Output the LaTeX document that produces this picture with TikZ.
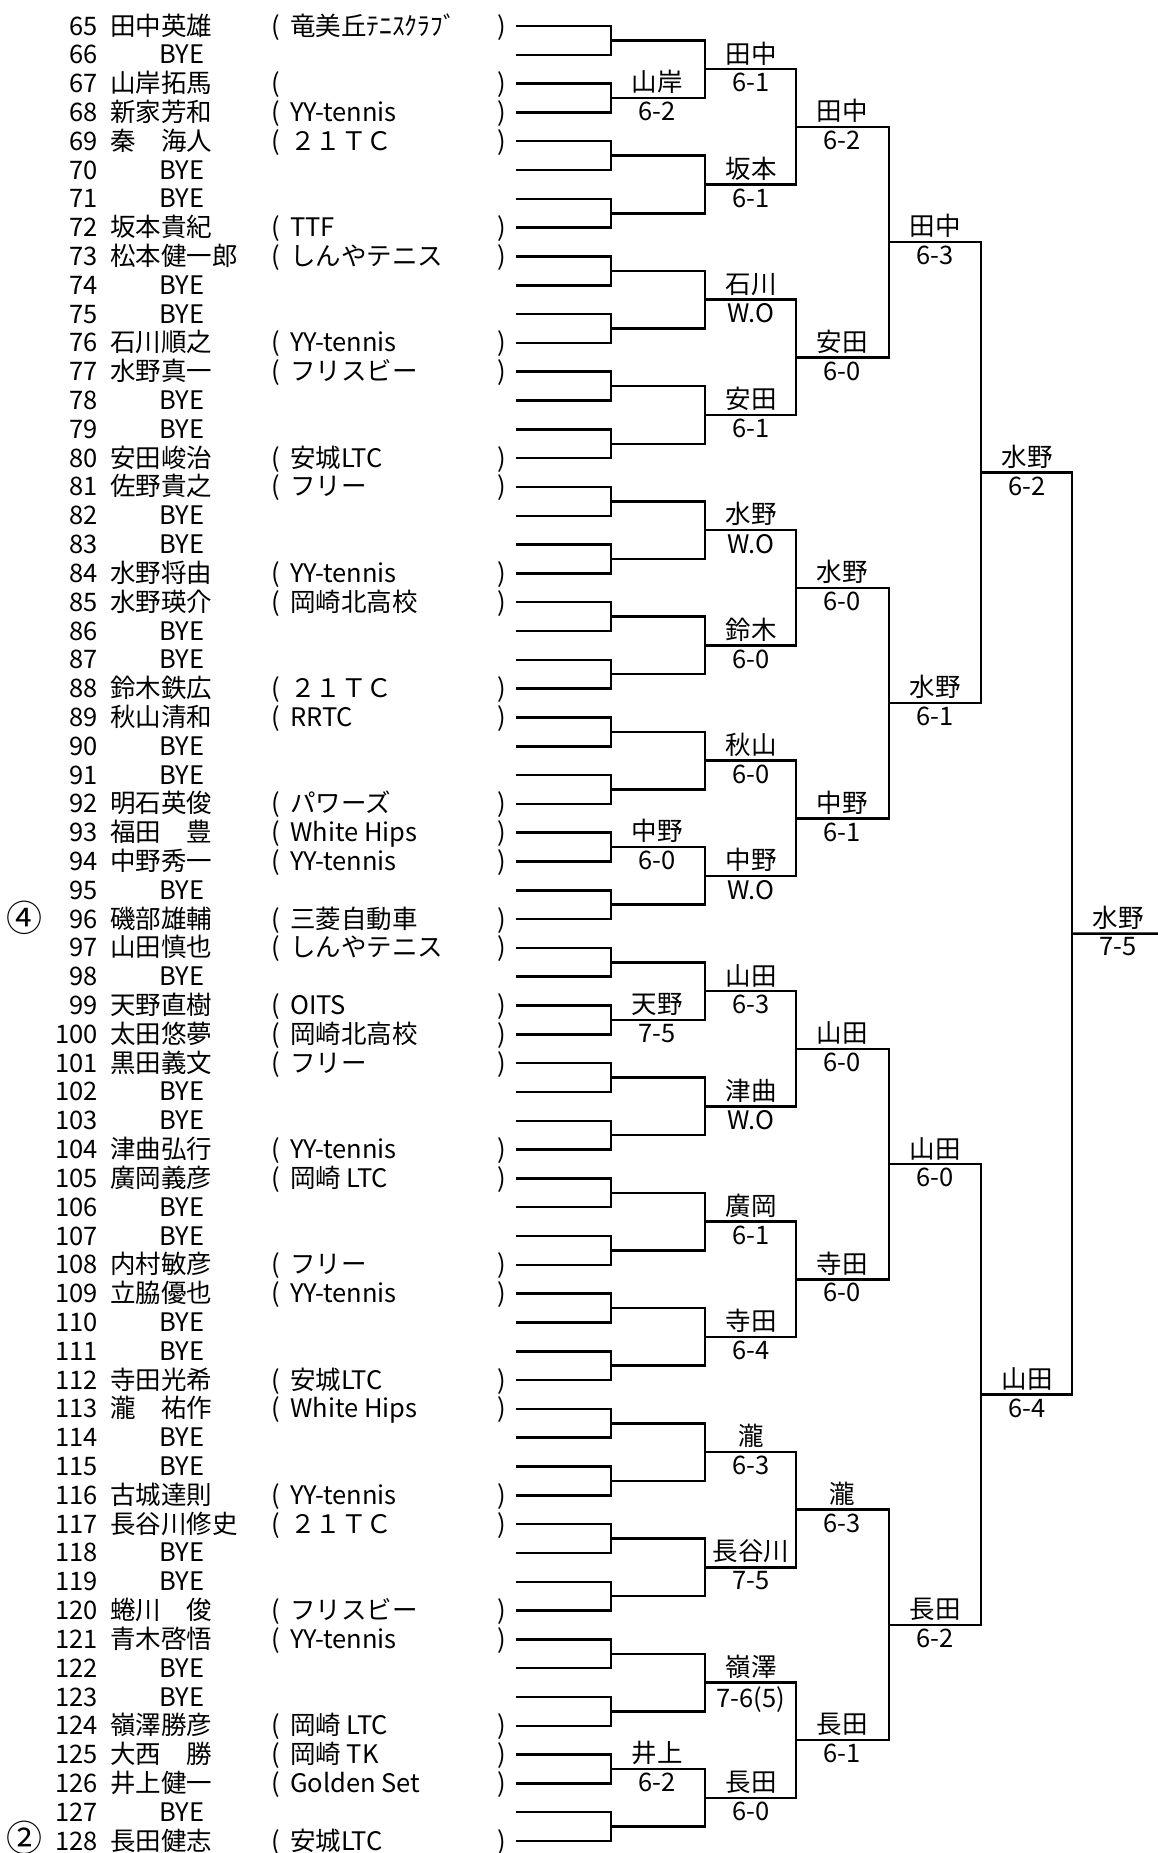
\documentclass[tikz,border=0pt]{standalone}
\usepackage{fontspec}
\setmainfont{Noto Sans CJK JP}

\begin{document}
\begin{tikzpicture}[
    x=1pt, y=-1pt,
    entry/.style={inner sep=0pt, font=\fontsize{25.5}{26}\selectfont},
    num/.style={entry, anchor=base east},
    who/.style={entry, anchor=base west},
    paren/.style={entry, anchor=base},
    bye/.style={entry, anchor=base},
    seed/.style={inner sep=0pt, anchor=center, font=\fontsize{36}{36}\selectfont},
    bracket/.style={line width=2.5pt},
    winner/.style={entry, anchor=south, xshift=46pt, yshift=4pt},
    score/.style={entry, anchor=north, xshift=46pt, yshift=-4pt}
]
\useasboundingbox (0,0) rectangle (1158,1853);

% Entries with a club
\foreach \n/\who/\club in {
    65/田中英雄/竜美丘ﾃﾆｽｸﾗﾌﾞ, 67/山岸拓馬/{}, 68/新家芳和/YY-tennis,
    69/秦　海人/２１ＴＣ, 72/坂本貴紀/TTF, 73/松本健一郎/しんやテニス,
    76/石川順之/YY-tennis, 77/水野真一/フリスビー, 80/安田峻治/安城LTC,
    81/佐野貴之/フリー, 84/水野将由/YY-tennis, 85/水野瑛介/岡崎北高校,
    88/鈴木鉄広/２１ＴＣ, 89/秋山清和/RRTC, 92/明石英俊/パワーズ,
    93/福田　豊/White Hips, 94/中野秀一/YY-tennis, 96/磯部雄輔/三菱自動車,
    97/山田慎也/しんやテニス, 99/天野直樹/OITS, 100/太田悠夢/岡崎北高校,
    101/黒田義文/フリー, 104/津曲弘行/YY-tennis, 105/廣岡義彦/岡崎 LTC,
    108/内村敏彦/フリー, 109/立脇優也/YY-tennis, 112/寺田光希/安城LTC,
    113/瀧　祐作/White Hips, 116/古城達則/YY-tennis, 117/長谷川修史/２１ＴＣ,
    120/蜷川　俊/フリスビー, 121/青木啓悟/YY-tennis, 124/嶺澤勝彦/岡崎 LTC,
    125/大西　勝/岡崎 TK, 126/井上健一/Golden Set, 128/長田健志/安城LTC}
{
    \pgfmathsetmacro\y{26+(\n-65)*28.81}
    \node[num] (num\n) at (98,\y+9) {\n};
    \node[who] (name\n) at (110,\y+9) {\who};
    \node[paren] (open\n) at (276,\y+9) {(};
    \node[who] (club\n) at (290,\y+9) {\club};
    \node[paren] (close\n) at (502,\y+9) {)};
    \coordinate (p\n) at (516,\y);
}

% BYE slots
\foreach \n in {66,70,71,74,75,78,79,82,83,86,87,90,91,95,98,102,103,
    106,107,110,111,114,115,118,119,122,123,127}
{
    \pgfmathsetmacro\y{26+(\n-65)*28.81}
    \node[num] (num\n) at (98,\y+9) {\n};
    \node[bye] (name\n) at (182,\y+9) {BYE};
    \coordinate (p\n) at (516,\y);
}

% Seeds
\node[seed] (seed96) at (24,918) {④};
\node[seed] (seed128) at (24,1838) {②};

% First round
\foreach \k in {1,...,32} {
    \pgfmathtruncatemacro\ra{63+2*\k}
    \pgfmathtruncatemacro\rb{64+2*\k}
    \coordinate (r1m\k) at (611,{26+(2*\k-1.5)*28.81});
    \draw[bracket] (p\ra) -| (r1m\k) |- (p\rb);
}

% Later rounds
\foreach \lvl/\xpos/\cnt in {2/705/16, 3/796/8, 4/889/4, 5/981/2, 6/1072/1} {
    \pgfmathtruncatemacro\lastlvl{\lvl-1}
    \foreach \k in {1,...,\cnt} {
        \pgfmathtruncatemacro\ra{2*\k-1}
        \pgfmathtruncatemacro\rb{2*\k}
        \pgfmathsetmacro\ymid{26+(2^\lvl*\k-2^(\lvl-1)-0.5)*28.81}
        \coordinate (r\lvl m\k) at (\xpos,\ymid);
        \draw[bracket] (r\lastlvl m\ra) -| (r\lvl m\k) |- (r\lastlvl m\rb);
    }
}

% Champion line
\coordinate (champ) at (1158,933.5);
\draw[bracket] (r6m1) -- (champ);

% Results
\foreach \lvl/\k/\who/\res in {
    1/2/山岸/6-2, 1/15/中野/6-0, 1/18/天野/7-5, 1/31/井上/6-2,
    2/1/田中/6-1, 2/2/坂本/6-1, 2/3/石川/W.O, 2/4/安田/6-1,
    2/5/水野/W.O, 2/6/鈴木/6-0, 2/7/秋山/6-0, 2/8/中野/W.O,
    2/9/山田/6-3, 2/10/津曲/W.O, 2/11/廣岡/6-1, 2/12/寺田/6-4,
    2/13/瀧/6-3, 2/14/長谷川/7-5, 2/15/嶺澤/7-6(5), 2/16/長田/6-0,
    3/1/田中/6-2, 3/2/安田/6-0, 3/3/水野/6-0, 3/4/中野/6-1,
    3/5/山田/6-0, 3/6/寺田/6-0, 3/7/瀧/6-3, 3/8/長田/6-1,
    4/1/田中/6-3, 4/2/水野/6-1, 4/3/山田/6-0, 4/4/長田/6-2,
    5/1/水野/6-2, 5/2/山田/6-4,
    6/1/水野/7-5}
{
    \node[winner] (w\lvl m\k) at (r\lvl m\k) {\who};
    \node[score] (s\lvl m\k) at (r\lvl m\k) {\res};
}

\end{tikzpicture}
\end{document}
